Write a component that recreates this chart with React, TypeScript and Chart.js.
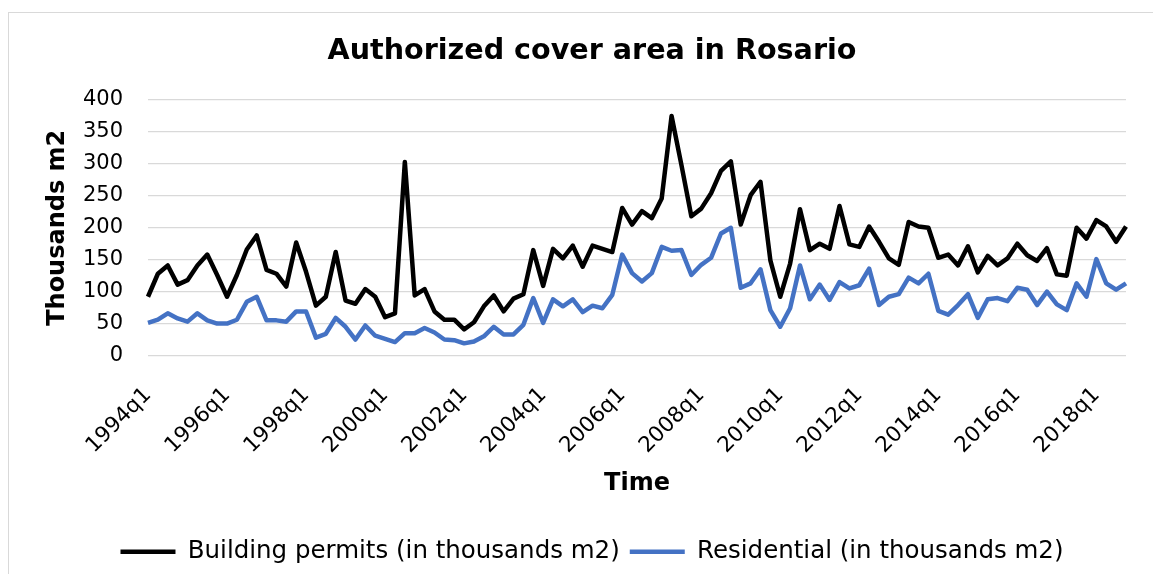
import React, { useEffect, useRef } from "react";
import { Chart, registerables } from "chart.js";

Chart.register(...registerables);

const years = [1994, 1995, 1996, 1997, 1998, 1999, 2000, 2001, 2002, 2003, 2004, 2005, 2006,
  2007, 2008, 2009, 2010, 2011, 2012, 2013, 2014, 2015, 2016, 2017, 2018];
const quarterNames = ["q1", "q2", "q3", "q4"];
const quarters: string[] = years.flatMap((y) => quarterNames.map((q) => `${y}${q}`));

const buildingPermits = [
  92, 128, 141, 111, 118, 141, 158, 126, 92, 126,
  166, 188, 134, 128, 108, 177, 131, 78, 92, 162,
  86, 81, 104, 92, 60, 66, 303, 94, 104, 69,
  56, 56, 41, 52, 77, 94, 69, 89, 96, 165,
  109, 167, 152, 172, 139, 172, 167, 162, 231, 205,
  226, 215, 246, 375, 298, 218, 230, 254, 289, 304,
  205, 251, 272, 149, 92, 144, 229, 165, 175, 167,
  234, 174, 170, 202, 178, 152, 142, 209, 202, 200,
  153, 158, 141, 171, 130, 156, 141, 152, 175, 157,
  148, 168, 127, 125, 200, 183, 212, 202, 178, 202,
];

const residential = [
  51, 56, 66, 58, 53, 66, 55, 50, 50, 56,
  84, 92, 55, 55, 53, 69, 69, 28, 34, 59,
  45, 25, 47, 31, 26, 21, 35, 35, 43, 36,
  25, 24, 19, 22, 30, 45, 33, 33, 48, 90,
  51, 88, 77, 88, 68, 78, 74, 95, 158, 129,
  116, 129, 170, 164, 165, 126, 142, 153, 191, 200,
  106, 113, 135, 71, 45, 74, 141, 88, 111, 87,
  115, 105, 110, 136, 79, 92, 96, 122, 113, 128,
  70, 64, 79, 96, 59, 88, 90, 85, 106, 103,
  79, 100, 80, 71, 113, 92, 151, 113, 103, 113,
];

const yMin = 0;
const yMax = 400;
const yStep = 50;
const labelEvery = 8;

const FONT = "'DejaVu Sans', Verdana, sans-serif";

export default function App() {
  const ref = useRef<HTMLCanvasElement | null>(null);

  useEffect(() => {
    if (!ref.current) return;
    const chart = new Chart(ref.current, {
      type: "line",
      data: {
        labels: quarters,
        datasets: [
          {
            label: "Building permits (in thousands m2)",
            data: buildingPermits,
            borderColor: "#000000",
            backgroundColor: "#000000",
            borderWidth: 4.5,
            pointRadius: 0,
            tension: 0,
            borderJoinStyle: "round",
          },
          {
            label: "Residential (in thousands m2)",
            data: residential,
            borderColor: "#4472C4",
            backgroundColor: "#4472C4",
            borderWidth: 4.5,
            pointRadius: 0,
            tension: 0,
            borderJoinStyle: "round",
          },
        ],
      },
      options: {
        responsive: false,
        animation: false,
        devicePixelRatio: 1,
        layout: { padding: { left: 50, right: 50, top: 0, bottom: 0 } },
        plugins: {
          title: {
            display: true,
            text: "Authorized cover area in Rosario",
            color: "#000",
            font: { family: FONT, size: 28.6, weight: "bold" },
            padding: { top: 22.8, bottom: 30.9 },
          },
          legend: {
            position: "bottom",
            labels: {
              usePointStyle: true,
              pointStyle: "line",
              pointStyleWidth: 55,
              color: "#000",
              font: { family: FONT, size: 24.5 },
              padding: 10,
            },
          },
          tooltip: { enabled: false },
        },
        scales: {
          x: {
            grid: { display: false, drawTicks: false },
            border: { display: false },
            ticks: {
              autoSkip: false,
              maxRotation: 45,
              minRotation: 45,
              padding: 27,
              color: "#000",
              font: { family: FONT, size: 21.5 },
              callback: (_v: any, i: number) => (i % labelEvery === 0 ? quarters[i] : ""),
            },
            title: {
              display: true,
              text: "Time",
              color: "#000",
              font: { family: FONT, size: 24, weight: "bold" },
              padding: { top: 0, bottom: 31.1 },
            },
            afterFit: (s: any) => {
              s.height = 174;
            },
          },
          y: {
            min: yMin,
            max: yMax,
            ticks: {
              stepSize: yStep,
              padding: 25,
              color: "#000",
              font: { family: FONT, size: 21 },
            },
            grid: { color: "#d9d9d9", lineWidth: 1.3, drawTicks: false },
            border: { display: false },
            title: {
              display: true,
              text: "Thousands m2",
              color: "#000",
              font: { family: FONT, size: 24, weight: "bold" },
              padding: { top: -14.4, bottom: 0 },
            },
            afterFit: (s: any) => {
              s.width = 90;
            },
          },
        },
      } as any,
    });
    return () => chart.destroy();
  }, []);

  return (
    <div style={{ paddingTop: 4 }}>
      <div style={{ position: "relative", width: 1145, height: 562, overflow: "hidden" }}>
        <div
          style={{
            position: "absolute",
            left: 0,
            top: 0,
            width: 1300,
            height: 800,
            border: "1px solid #d9d9d9",
          }}
        />
        <canvas
          ref={ref}
          width={1168}
          height={562}
          style={{ position: "absolute", left: 0, top: 0, display: "block" }}
        />
      </div>
    </div>
  );
}
